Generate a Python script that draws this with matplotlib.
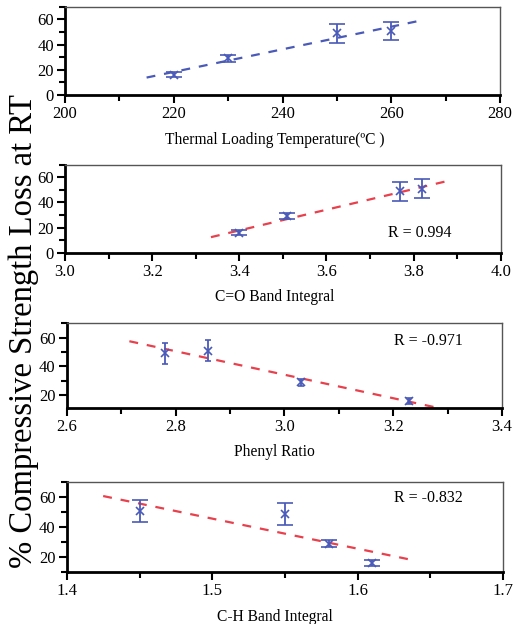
import numpy as np
import matplotlib
matplotlib.use('Agg')
import matplotlib.pyplot as plt
from matplotlib.ticker import MultipleLocator

plt.rcParams['font.family'] = ['Liberation Serif', 'DejaVu Serif']

# データ4サンプル
loss = [16, 29, 49, 51]
loss_err = [2, 2.5, 7.5, 7.3]

temp = [220, 230, 250, 260]
co_band = [3.40, 3.51, 3.77, 3.82]
phenyl = [3.23, 3.03, 2.78, 2.86]
ch_band = [1.61, 1.58, 1.55, 1.45]

panels = [
    # x, xlabel, xlim, xmajor, xminor, ylim, fit range, R text, line color
    (temp, 'Thermal Loading Temperature(\u00baC )', (200, 280), 20, 10, (0, 70), (215, 265), None, '#4a5ab8'),
    (co_band, 'C=O Band Integral', (3.0, 4.0), 0.2, 0.1, (0, 70), (3.335, 3.89), 'R = 0.994', '#e8404c'),
    (phenyl, 'Phenyl Ratio', (2.6, 3.4), 0.2, 0.1, (11, 70), (2.715, 3.295), 'R = -0.971', '#e8404c'),
    (ch_band, 'C-H Band Integral', (1.4, 1.7), 0.1, 0.05, (10, 70), (1.425, 1.635), 'R = -0.832', '#e8404c'),
]

# axes位置 [left, bottom, width, height]
positions = [
    [0.1255, 0.848, 0.840, 0.141],
    [0.1255, 0.595, 0.841, 0.141],
    [0.129, 0.346, 0.840, 0.136],
    [0.129, 0.083, 0.842, 0.144],
]
label_y = [140, 297, 452, 617]
r_pos = [None, (0.888, 0.227), (0.91, 0.79), (0.908, 0.83)]

fig = plt.figure(figsize=(5.18, 6.24), dpi=100)
blue = '#4a5ab8'

for i, (x, xlabel, xlim, xmaj, xmin, ylim, fr, rtxt, lc) in enumerate(panels):
    ax = fig.add_axes(positions[i])
    # 回帰直線
    p = np.polyfit(x, loss, 1)
    xf = np.array(fr)
    ax.plot(xf, np.polyval(p, xf), '--', color=lc, lw=1.6, dashes=(4, 4))
    capsize = 6 if i in (0, 1, 3) else 2.5
    ax.errorbar(x, loss, yerr=loss_err, fmt='x', color=blue, ms=6, mew=1.2,
                elinewidth=1.3, capsize=capsize, capthick=1.3)
    ax.set_xlim(*xlim)
    ax.set_ylim(*ylim)
    ax.xaxis.set_major_locator(MultipleLocator(xmaj))
    ax.xaxis.set_minor_locator(MultipleLocator(xmin))
    ax.yaxis.set_major_locator(MultipleLocator(20))
    ax.yaxis.set_minor_locator(MultipleLocator(10))
    if xmaj < 1:
        ax.xaxis.set_major_formatter(plt.FormatStrFormatter('%.1f'))
    ax.tick_params(which='both', direction='out', labelsize=12, width=1.5, pad=2)
    ax.tick_params(which='major', length=6)
    ax.tick_params(which='minor', length=4)
    for s in ('bottom', 'left'):
        ax.spines[s].set_linewidth(2)
    for s in ('top', 'right'):
        ax.spines[s].set_linewidth(1)
        ax.spines[s].set_color('#555555')
    fig.text(0.53, 1 - label_y[i] / 624, xlabel, ha='center', va='center', fontsize=11.2)
    if rtxt:
        ax.text(r_pos[i][0], r_pos[i][1], rtxt, transform=ax.transAxes,
                ha='right', va='center', fontsize=11.5)

fig.text(0.045, 0.47, '% Compressive Strength Loss at RT', rotation=90,
         ha='center', va='center', fontsize=23.5)

fig.savefig('out.png', dpi=100)
